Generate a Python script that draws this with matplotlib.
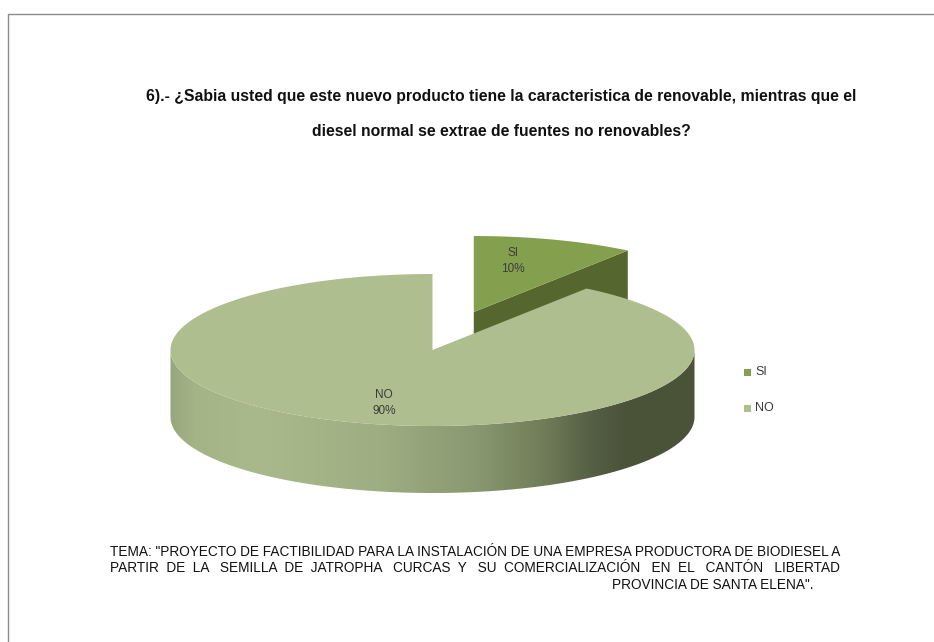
import numpy as np
import matplotlib
matplotlib.use("Agg")
import matplotlib.pyplot as plt
from matplotlib.patches import Polygon, Rectangle
from matplotlib.colors import to_rgb

# Survey answers
categories = ["SI", "NO"]
values = [10, 90]
top_colors = ["#84A04E", "#AEBE8E"]
cut_color = "#56662F"

title_lines = [
    "6).- ¿Sabia usted que este nuevo producto tiene la caracteristica de renovable, mientras que el",
    "diesel normal se extrae de fuentes no renovables?",
]
footer_lines = [
    'TEMA: "PROYECTO DE FACTIBILIDAD PARA LA INSTALACIÓN DE UNA EMPRESA PRODUCTORA DE BIODIESEL A',
    "PARTIR  DE  LA   SEMILLA  DE  JATROPHA   CURCAS  Y   SU  COMERCIALIZACIÓN   EN  EL   CANTÓN   LIBERTAD",
    'PROVINCIA DE SANTA ELENA".',
]

# Pie geometry, in figure pixels
CX, CY = 432.5, 350.0
RX, RY = 262.0, 76.0
DEPTH = 67.0
EXPLODE = 0.51

# Rim shading, dark towards the right
rim_x = [170, 195, 260, 380, 480, 545, 590, 625, 695]
rim_c = ["#98A87C", "#A4B487", "#A9B98B", "#9EAE82", "#88976F", "#6F7C58", "#566045", "#4B5339", "#4A5238"]

plt.rcParams["font.family"] = ["Liberation Sans", "DejaVu Sans"]
fig = plt.figure(figsize=(9.34, 6.42), dpi=100, facecolor="white")
ax = fig.add_axes([0, 0, 1, 1])
ax.set_xlim(0, 934)
ax.set_ylim(642, 0)
ax.axis("off")


def rim_point(turn, ox=0.0, oy=0.0):
    ang = 2 * np.pi * np.asarray(turn)
    return np.column_stack([CX + ox + RX * np.sin(ang), CY + oy - RY * np.cos(ang)])


def sector(start, end, ox=0.0, oy=0.0):
    arc = rim_point(np.linspace(start, end, 300), ox, oy)
    return np.vstack([[CX + ox, CY + oy], arc])


fractions = np.array(values, dtype=float) / sum(values)
si_end = fractions[0]

# Exploded SI slice: cut face first, then its top
mid = 2 * np.pi * si_end / 2
ox, oy = EXPLODE * RX * np.sin(mid), -EXPLODE * RY * np.cos(mid) * 1.03
apex = np.array([CX + ox, CY + oy])
corner = rim_point([si_end], ox, oy)[0]
ax.add_patch(Polygon([apex, corner, corner + [0, DEPTH], apex + [0, DEPTH]],
                     closed=True, fc=cut_color, ec="none", zorder=2))
ax.add_patch(Polygon(sector(0, si_end, ox, oy), closed=True,
                     fc=top_colors[0], ec="none", zorder=3))

# NO slice: shaded rim clipped to the front half of the ellipse
front = rim_point(np.linspace(0.25, 0.75, 300))
rim_outline = np.vstack([front, (front + [0, DEPTH])[::-1]])
rim_patch = Polygon(rim_outline, closed=True, fc="none", ec="none", transform=ax.transData)
ax.add_patch(rim_patch)
xs = np.arange(165, 701)
rgb = np.array([to_rgb(c) for c in rim_c])
grad = np.stack([np.interp(xs, rim_x, rgb[:, i]) for i in range(3)], axis=-1)[None, :, :]
im = ax.imshow(grad, extent=(165, 700, 500, 300), aspect="auto", zorder=4, interpolation="bilinear")
im.set_clip_path(rim_patch)
ax.set_xlim(0, 934)
ax.set_ylim(642, 0)

ax.add_patch(Polygon(sector(si_end, 1.0), closed=True,
                     fc=top_colors[1], ec="none", zorder=5))

# Data labels
label_pos = [(513, 261), (384, 403)]
for cat, val, (lx, ly) in zip(categories, values, label_pos):
    ax.text(lx, ly, f"{cat}\n{val}%", ha="center", va="center", fontsize=8.5,
            color="#3c3c3c", linespacing=1.5, zorder=6)

# Legend
for cat, col, ly in zip(categories, top_colors, [372, 408]):
    ax.add_patch(Rectangle((744, ly - 3.5), 7, 7, fc=col, ec="none", zorder=6))
    ax.text(755, ly, cat, ha="left", va="center", fontsize=9, color="#3c3c3c", zorder=6)

# Question
for line, ly in zip(title_lines, [96, 131]):
    ax.text(501, ly, line, ha="center", va="center", fontsize=11.3,
            fontweight="bold", color="#101010")

# Project theme, justified by hand with wider word spacing on the second line
ax.text(110, 552, footer_lines[0], ha="left", va="center", fontsize=9.8, color="#111111")
ax.text(110, 568, footer_lines[1], ha="left", va="center", fontsize=9.8, color="#111111")
ax.text(813, 585, footer_lines[2], ha="right", va="center", fontsize=9.8, color="#111111")

# Frame of the embedded chart area
ax.plot([8, 8, 934], [642, 13.5, 13.5], color="#8C8C8C", lw=1.0, solid_joinstyle="miter", zorder=1)

fig.savefig("out.png", dpi=100)
